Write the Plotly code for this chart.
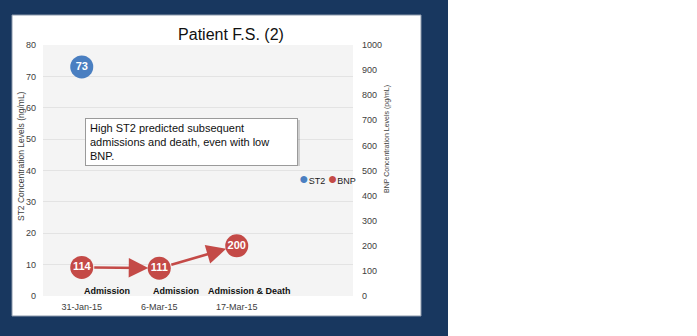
import plotly.graph_objects as go

# --- data -------------------------------------------------------------
dates = ["31-Jan-15", "6-Mar-15", "17-Mar-15"]
events = ["Admission", "Admission", "Admission & Death"]
st2_values = [73, None, None]          # ng/mL
bnp_values = [114, 111, 200]           # pg/mL
left_ticks = [0, 10, 20, 30, 40, 50, 60, 70, 80]
right_ticks = [0, 100, 200, 300, 400, 500, 600, 700, 800, 900, 1000]
series_names = ["ST2", "BNP"]
note = "High ST2 predicted subsequent<br>admissions and death, even with low<br>BNP."

# --- styling ----------------------------------------------------------
W, H = 697, 336
PL, PR, PT, PB = 43, 353, 45, 296      # plot area in pixels
FONT = "Liberation Sans, Arial, sans-serif"
BLUE = "#4a7fc1"
RED = "#c44a47"
NAVY = "#18375f"
TXT = "#404040"

def px_x(p):
    return (p - PL) / (PR - PL)

def px_y(p):
    return (PB - p) / (PB - PT)

xs = list(range(len(dates)))

fig = go.Figure()

fig.add_trace(go.Scatter(
    x=xs, y=st2_values, mode="markers+text", name=series_names[0],
    marker=dict(size=23, color=BLUE),
    text=[str(v) if v is not None else "" for v in st2_values],
    textposition="middle center",
    textfont=dict(family=FONT, size=11, color="white", weight="bold"),
    showlegend=False, yaxis="y", cliponaxis=False,
))
fig.add_trace(go.Scatter(
    x=xs, y=bnp_values, mode="markers+text", name=series_names[1],
    marker=dict(size=23, color=RED),
    text=[str(v) for v in bnp_values],
    textposition="middle center",
    textfont=dict(family=FONT, size=11, color="white", weight="bold"),
    showlegend=False, yaxis="y2", cliponaxis=False,
))

annotations = []

# arrows joining consecutive BNP readings
for i in range(1, len(bnp_values)):
    annotations.append(dict(
        x=xs[i], y=bnp_values[i], xref="x", yref="y2",
        ax=xs[i - 1], ay=bnp_values[i - 1], axref="x", ayref="y2",
        text="", showarrow=True, arrowhead=2, arrowsize=1.5,
        arrowwidth=2.6, arrowcolor=RED, standoff=11, startstandoff=11,
    ))

# event captions under each visit
event_shift = [0.33, 0.22, 0.17]
for i, ev in enumerate(events):
    annotations.append(dict(
        x=xs[i] + event_shift[i], y=px_y(291), xref="x", yref="paper",
        text=ev, showarrow=False, xanchor="center", yanchor="middle",
        font=dict(family=FONT, size=9, color="#111111", weight="bold"),
    ))

# axis titles
annotations.append(dict(
    x=px_x(14), y=px_y(156), xref="paper", yref="paper",
    text="ST2 Concentration Levels (ng/mL)", textangle=-90, showarrow=False,
    font=dict(family=FONT, size=8.5, color=TXT),
))
annotations.append(dict(
    x=px_x(393), y=px_y(139), xref="paper", yref="paper",
    text="BNP Concentration Levels (pg/mL)", textangle=-90, showarrow=False,
    font=dict(family=FONT, size=7, color=TXT),
))

# compact key for the two series
key = " ".join(
    f"<span style='color:{c};font-size:16px'>●</span>{n}"
    for n, c in zip(series_names, [BLUE, RED])
)
annotations.append(dict(
    x=px_x(297), y=px_y(178), xref="paper", yref="paper",
    xanchor="left", yanchor="middle", text=key, showarrow=False,
    font=dict(family=FONT, size=9, color="#222222"),
))

# note box
annotations.append(dict(
    x=px_x(85), y=px_y(118), xref="paper", yref="paper",
    xanchor="left", yanchor="top", text=note, align="left",
    showarrow=False, width=203, height=38, borderpad=4,
    bgcolor="white", bordercolor="#9a9a9a", borderwidth=1,
    font=dict(family=FONT, size=11, color="#111111"),
))

shapes = [
    # navy frame
    dict(type="rect", xref="paper", yref="paper", layer="below",
         x0=px_x(0), x1=px_x(448), y0=px_y(336), y1=px_y(0),
         fillcolor=NAVY, line=dict(width=0)),
    # white slide panel
    dict(type="rect", xref="paper", yref="paper", layer="below",
         x0=px_x(12), x1=px_x(421), y0=px_y(316), y1=px_y(15),
         fillcolor="white", line=dict(color="#8a98ab", width=1)),
    # plot background
    dict(type="rect", xref="paper", yref="paper", layer="below",
         x0=0, x1=1, y0=0, y1=1, fillcolor="#f4f4f4", line=dict(width=0)),
    # shadow of the note box
    dict(type="rect", xref="paper", yref="paper", layer="above",
         x0=px_x(87), x1=px_x(300), y0=px_y(166), y1=px_y(120),
         fillcolor="rgba(0,0,0,0.15)", line=dict(width=0)),
]

fig.update_layout(
    width=W, height=H,
    margin=dict(l=PL, r=W - PR, t=PT, b=H - PB, pad=0),
    paper_bgcolor="white", plot_bgcolor="rgba(0,0,0,0)",
    font=dict(family=FONT, color=TXT),
    showlegend=False,
    title=dict(text="Patient F.S. (2)", x=231 / W, y=1 - 34 / H,
               xref="container", yref="container",
               xanchor="center", yanchor="middle",
               font=dict(family=FONT, size=16, color="#111111")),
    xaxis=dict(range=[-0.5, 3.5], tickvals=xs, ticktext=dates,
               showgrid=False, zeroline=False, showline=False, ticks="",
               tickfont=dict(family=FONT, size=9, color=TXT),
               ticklabelstandoff=4, fixedrange=True),
    yaxis=dict(range=[0, 80], tickvals=left_ticks, showgrid=True,
               gridcolor="#e3e3e3", gridwidth=1, zeroline=False, ticks="",
               tickfont=dict(family=FONT, size=9, color=TXT),
               ticklabelstandoff=6),
    yaxis2=dict(range=[0, 1000], tickvals=right_ticks, overlaying="y",
                side="right", showgrid=False, zeroline=False, ticks="",
                tickfont=dict(family=FONT, size=9, color=TXT),
                ticklabelstandoff=8),
    annotations=annotations,
    shapes=shapes,
)

fig.write_html("out.html")
